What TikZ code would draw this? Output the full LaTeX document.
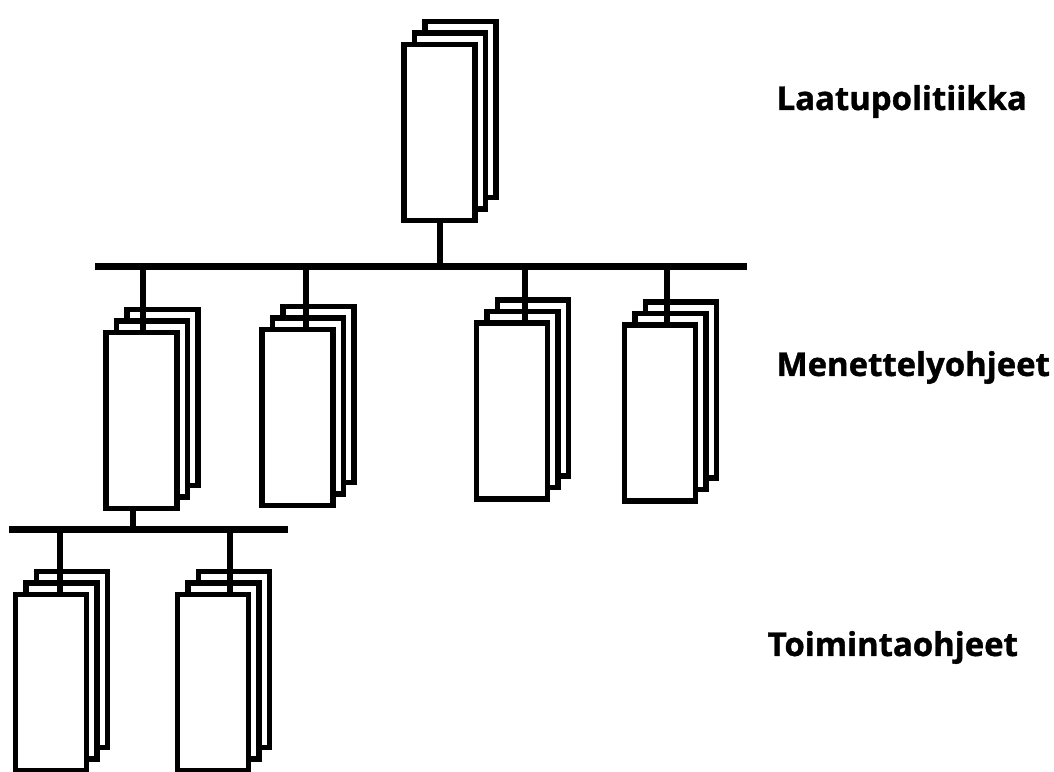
\documentclass[tikz,border=0pt]{standalone}
\usepackage{fontspec}
\setmainfont{Open Sans}[BoldFeatures={FakeBold=1.2}]
\usetikzlibrary{positioning}
\tikzset{
 qm sheet/.style={draw=black,fill=white,line width=.058cm,rectangle,
                  minimum width=.71cm,minimum height=1.76cm,inner sep=0pt},
 qm link/.style={line width=.058cm},
 qm bar/.style={line width=.062cm},
 qm level label/.style={anchor=base west,inner sep=0pt,
                        font=\fontsize{9.35pt}{11pt}\selectfont\bfseries}
}

\begin{document}
\begin{tikzpicture}
 \useasboundingbox (0,0) rectangle (10.54,7.72);
 \coordinate (b1w) at (.95,5.055);
 \coordinate (b1e) at (7.47,5.055);
 \coordinate (b2w) at (.09,2.425);
 \coordinate (b2e) at (2.88,2.425);

 % three sheets per document pile, front one last
 \foreach \n/\x/\y in {lp/4.395/6.395,mo1/1.415/3.515,mo2/2.975/3.545,
                       mo3/5.12/3.61,mo4/6.60/3.59,to1/.51/.895,to2/2.13/.895}{
   \node[qm sheet] (\n-c) at (\x+.21,\y+.23) {};
   \node[qm sheet] (\n-b) at (\x+.105,\y+.115) {};
   \node[qm sheet] (\n) at (\x,\y) {};
 }

 \draw[qm bar] (b1w)--(b1e);
 \draw[qm bar] (b2w)--(b2e);

 \coordinate (lp-j) at (4.40,5.055);
 \draw[qm link] (lp-j |- lp.south)--(lp-j);
 \foreach \n/\x in {mo1/1.43,mo2/3.06,mo3/5.25,mo4/6.67}{
   \coordinate (\n-j) at (\x,5.055);
   \draw[qm link] (\n-j)--(\n-j |- \n.north);
 }
 \coordinate (mo1-k) at (1.33,2.425);
 \draw[qm link] (mo1-k |- mo1.south)--(mo1-k);
 \foreach \n/\x in {to1/.60,to2/2.30}{
   \coordinate (\n-j) at (\x,2.425);
   \draw[qm link] (\n-j)--(\n-j |- \n.north);
 }

 \node[qm level label] (lab-lp) at (7.76,6.62) {Laatupolitiikka};
 \node[qm level label] (lab-mo) at (7.76,3.96) {Menettelyohjeet};
 \node[qm level label] (lab-to) at (7.67,1.16) {Toimintaohjeet};
\end{tikzpicture}
\end{document}
